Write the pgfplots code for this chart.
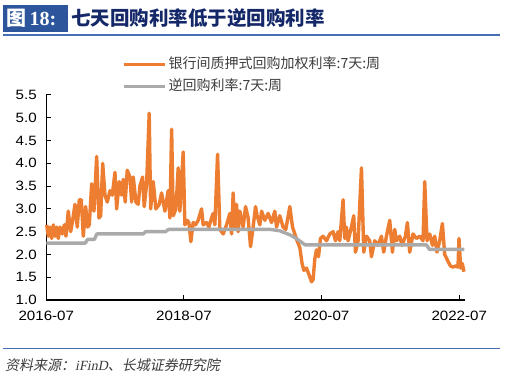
\documentclass[border=0pt]{standalone}
\usepackage{pgfplots}
\pgfplotsset{compat=1.18}
\usepackage{fontspec}
\setmainfont{Liberation Sans}
\newfontfamily\cjk{Noto Sans CJK SC}
\newfontfamily\tickfont[FakeStretch=1.12]{Liberation Sans}
\newfontfamily\srcfont[FakeSlant=0.2]{Noto Sans CJK SC}
\newfontfamily\serifit[FakeSlant=0.2]{Liberation Serif}
\newfontfamily\serifb{Liberation Serif}
\definecolor{orangeS}{RGB}{237,125,49}
\definecolor{grayS}{RGB}{170,170,170}
\definecolor{boxblue}{RGB}{45,85,155}
\definecolor{titlenavy}{RGB}{20,40,105}
\definecolor{lineblue}{RGB}{70,110,180}
\definecolor{legtext}{RGB}{60,60,60}
\begin{document}
\begin{tikzpicture}[x=1pt,y=1pt]
\path (0,0) rectangle (508,377);
% title
\fill[boxblue] (3,345) rectangle (68,372);
\node[anchor=west,text=white,inner sep=0pt,font={\fontsize{20}{22}\selectfont}] at (6,358.5) {{\cjk\bfseries 图}\,{\serifb\bfseries 18:}};
\node[anchor=west,text=titlenavy,inner sep=0pt,font={\fontsize{19.5}{22}\selectfont\cjk\bfseries}] at (71,358.5) {七天回购利率低于逆回购利率};
\draw[lineblue,line width=2pt] (3,342) -- (500,342);
\draw[lineblue,line width=1pt] (3,28) -- (500,28);
\node[anchor=west,text=legtext,inner sep=0pt,font={\fontsize{14}{16}\selectfont}] at (5,12) {{\srcfont 资料来源：}{\serifit iFinD}{\srcfont 、长城证券研究院}};
\begin{axis}[
  at={(46.3pt,77pt)}, anchor=south west,
  scale only axis, width=418.7pt, height=205pt,
  xmin=0, xmax=73, ymin=1.0, ymax=5.5,
  axis x line=bottom, axis y line=left,
  axis line style={-, line width=1.1pt, black},
  tick align=inside, major tick length=5pt,
  tick style={line width=1pt, black},
  xtick={0,24,48,72}, xticklabels={2016-07,2018-07,2020-07,2022-07},
  ytick={1.0,1.5,2.0,2.5,3.0,3.5,4.0,4.5,5.0,5.5},
  /pgf/number format/assume math mode=true,
  ticklabel style={font={\fontsize{13.5}{15}\selectfont\tickfont}, text=black},
  xticklabel style={yshift=-8pt},
  yticklabel style={xshift=-6pt, /pgf/number format/.cd, fixed, fixed zerofill, precision=1},
  clip=false,
  legend style={at={(0.181,1.19)}, anchor=north west, draw=none, fill=none, inner sep=0pt,
    font={\fontsize{14}{16}\selectfont\cjk}, text=legtext, row sep=5pt,
    nodes={text height=10pt, text depth=3pt}},
  legend cell align=left,
  legend image code/.code={\draw[#1] (0pt,0pt) -- (41pt,0pt);},
]
\addplot[orangeS, line width=3.4pt, line join=round] coordinates {
(0.07,2.65)(0.35,2.4)(0.64,2.6)(0.94,2.35)(1.22,2.65)(1.52,2.4)(1.81,2.6)(2.09,2.35)(2.39,2.6)(2.79,2.45)
(3.14,2.65)(3.43,2.4)(3.83,2.95)(4.25,2.5)(4.6,2.75)(5.0,3.1)(5.4,2.6)(5.75,3.2)(6.1,3.2)(6.45,2.4)
(6.86,3.05)(7.21,2.6)(7.5,2.65)(7.91,3.55)(8.31,2.95)(8.78,4.15)(9.18,2.8)(9.48,2.85)(9.83,4.0)(10.23,3.3)
(10.63,3.15)(11.1,3.4)(11.5,3.3)(11.97,3.8)(12.26,3.0)(12.72,3.6)(13.14,3.3)(13.42,3.65)(13.76,3.15)(14.11,3.85)
(14.58,3.7)(14.88,3.15)(15.16,3.7)(15.63,3.15)(16.03,3.1)(16.32,3.5)(16.79,3.7)(17.07,3.05)(17.49,3.55)(17.94,5.1)
(18.19,3.0)(18.64,3.6)(19.11,3.0)(19.69,3.1)(20.1,3.35)(20.68,2.95)(21.25,3.4)(21.55,2.8)(21.85,4.75)(22.13,2.85)
(22.6,3.0)(23.0,3.9)(23.29,2.95)(23.87,4.25)(24.16,2.65)(24.56,2.75)(24.86,2.7)(25.21,2.28)(25.61,2.7)(26.03,2.65)
(26.48,2.75)(27.07,3.0)(27.35,2.65)(27.94,2.7)(28.34,2.6)(28.81,2.8)(29.09,2.9)(29.39,2.65)(29.86,4.2)(30.26,2.55)
(30.84,2.45)(31.43,2.65)(32.0,2.9)(32.3,2.45)(32.58,3.35)(32.87,2.6)(33.17,3.1)(33.45,2.5)(33.75,2.95)(34.32,2.6)
(34.74,3.05)(35.19,2.8)(35.61,2.17)(36.06,2.6)(36.48,3.05)(36.76,2.85)(37.23,2.65)(37.53,2.95)(38.1,2.75)(38.68,2.9)
(39.27,2.7)(39.84,2.95)(40.14,2.6)(40.71,2.85)(41.29,2.6)(41.76,2.55)(42.46,3.05)(42.93,2.6)(43.33,2.45)(43.73,2.3)
(44.2,2.15)(44.6,1.8)(44.9,1.65)(45.37,1.7)(45.82,1.55)(46.24,1.4)(46.52,1.45)(46.81,1.9)(47.11,2.1)(47.46,1.95)
(47.8,2.35)(48.26,2.4)(48.85,2.3)(49.43,2.45)(50.0,2.5)(50.42,2.3)(50.87,2.5)(51.17,2.3)(51.74,3.2)(52.04,2.35)
(52.33,2.6)(52.61,2.3)(53.2,2.6)(53.6,2.85)(53.9,2.05)(54.36,2.3)(54.95,3.9)(55.35,2.05)(55.82,2.4)(56.39,2.3)
(56.69,1.95)(57.26,2.3)(57.84,2.2)(58.43,2.4)(58.83,2.05)(59.3,2.4)(59.88,2.75)(60.35,2.05)(60.75,2.55)(61.04,2.3)
(61.62,2.4)(62.02,2.2)(62.61,2.4)(62.96,2.7)(63.36,2.05)(63.94,2.45)(64.53,2.35)(65.1,2.4)(65.68,2.3)(65.98,3.6)
(66.38,2.3)(66.85,2.45)(67.32,2.2)(67.72,2.4)(68.12,2.05)(68.59,2.3)(69.06,2.68)(69.46,2.0)(70.03,1.85)(70.45,1.75)
(70.91,1.72)(71.38,1.75)(71.78,1.72)(71.95,2.35)(72.25,1.7)(72.54,1.8)(72.82,1.62)
};
\addlegendentry{银行间质押式回购加权利率:7天:周}
\addplot[grayS, line width=3.4pt, line join=round] coordinates {
(0,2.25)(6.8,2.25)(7.2,2.33)(8.4,2.33)(8.8,2.45)(16.9,2.45)(17.3,2.5)(20.8,2.5)(21.3,2.55)
(39.0,2.55)(40.7,2.52)(42.5,2.43)(43.6,2.35)(45.1,2.21)(66.3,2.21)(66.8,2.11)(72.9,2.11)
};
\addlegendentry{逆回购利率:7天:周}
\end{axis}
\end{tikzpicture}
\end{document}
